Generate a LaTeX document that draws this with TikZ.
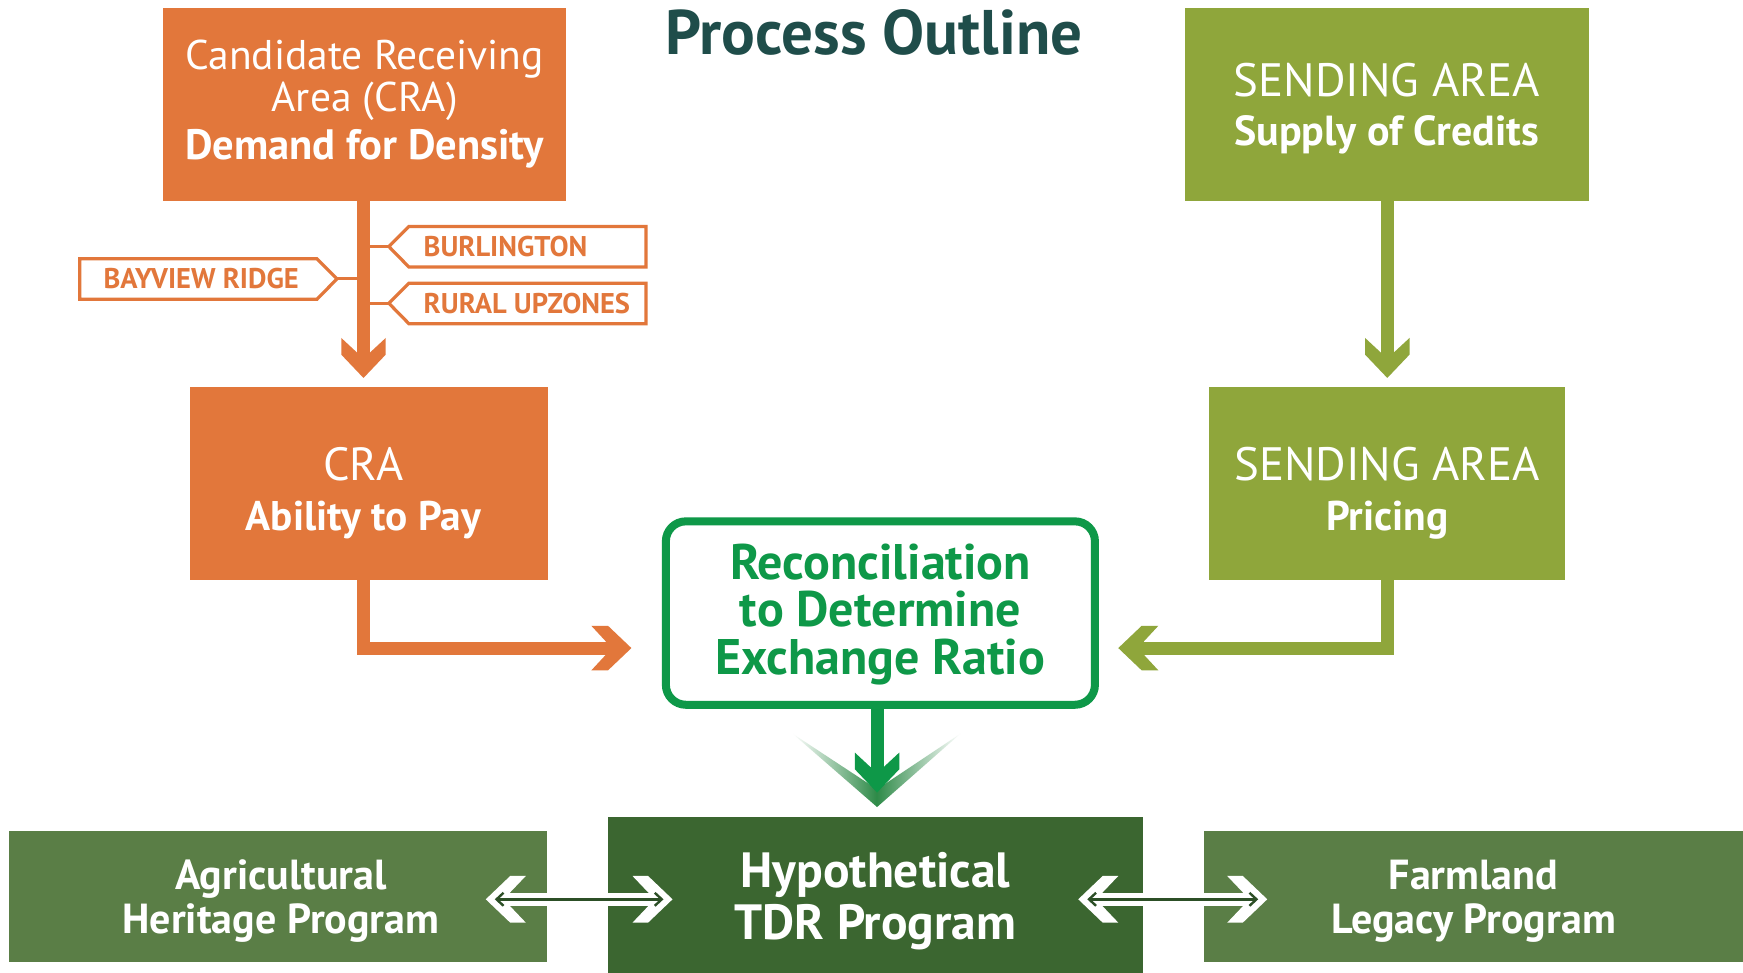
\documentclass[tikz,border=0pt]{standalone}
\usepackage{fontspec}
\setmainfont{PT Sans}
\usetikzlibrary{fit,arrows.meta}
\definecolor{craorange}{HTML}{E2773B}
\definecolor{sendolive}{HTML}{8FA63B}
\definecolor{recgreen}{HTML}{0E9848}
\definecolor{vgreen}{HTML}{2E8A48}
\definecolor{tdrgreen}{HTML}{3B6630}
\definecolor{progreen}{HTML}{5A7E46}
\definecolor{titleteal}{HTML}{1F4D4A}
\definecolor{rimgreen}{HTML}{2C4F26}
\newcommand\setfs[1]{\fontsize{#1}{#1}\selectfont}
\tikzset{
  panel/.style={inner sep=0pt},
  boxtext/.style={inner sep=0pt, text=white, align=center},
  tagbody/.style={inner sep=0pt},
  tagtext/.style={inner sep=0pt, text=craorange, font=\setfs{28.5}\bfseries},
  tagline/.style={draw=craorange, line width=3.2pt, line join=miter},
  tick/.style={craorange, line width=3.2pt},
  shaft/.style={line width=13pt, line join=miter, shorten >=22pt},
  duoshaft/.style={white, line width=13pt, shorten <=18pt, shorten >=18pt},
  duorim/.style={rimgreen, line width=2.4pt,
    {Straight Barb[length=7pt,width=13pt]}-{Straight Barb[length=7pt,width=13pt]},
    shorten <=9pt, shorten >=9pt},
  bighead/.pic={\fill[#1] (0,0) -- (-21,20) -- (-36,20) -- (-23,6) -- (-23,-6) -- (-36,-20) -- (-21,-20) -- cycle;},
  duohead/.pic={\fill[white] (0,0) -- (-22,21) -- (-36,21) -- (-16,0) -- (-36,-21) -- (-22,-21) -- cycle;},
}
\begin{document}
\begin{tikzpicture}[x=1.1116pt, y=-1.1116pt]
\useasboundingbox (0,0) rectangle (1568,875);
\fill[white] (0,0) rectangle (1568,875);

% title
\node[font=\setfs{63}\bfseries, text=titleteal] (title) at (786,29) {Process Outline};

% panels
\node[panel, fill=craorange, fit={(147,7)(509,181)}] (cra) {};
\node[panel, fill=sendolive, fit={(1066,7)(1429,181)}] (send) {};
\node[panel, fill=craorange, fit={(171,348)(493,522)}] (ability) {};
\node[panel, fill=sendolive, fit={(1088,348)(1408,522)}] (pricing) {};
\node[panel, draw=recgreen, line width=8pt, rounded corners=20pt, fit={(599,469)(985,634)}] (recon) {};
\node[panel, fill=tdrgreen, fit={(547,735)(1028,875)}] (tdr) {};
\node[panel, fill=progreen, fit={(8,748)(492,865)}] (agri) {};
\node[panel, fill=progreen, fit={(1083,748)(1568,865)}] (farm) {};

% arrow tips
\coordinate (craTip) at (327,340);
\coordinate (sendTip) at (1248,340);
\coordinate (orTip) at (568,583);
\coordinate (olTip) at (1006,583);
\coordinate (recTip) at (789,713);

% panel texts
\node[boxtext, font=\fontsize{41.5}{42}\selectfont] (craText) at (cra)
  {{\setfs{41.5}Candidate Receiving}\\{\setfs{41.5}Area (CRA)}\\[6pt]{\setfs{42.5}\bfseries Demand for Density}};
\node[boxtext, font=\fontsize{44}{48.5}\selectfont, yshift=-4pt] (sendText) at (send)
  {{\setfs{46.8}SENDING AREA}\\{\setfs{42}\bfseries Supply of Credits}};
\node[boxtext, font=\fontsize{44}{49.5}\selectfont, yshift=-9.5pt] (abilityText) at (ability -| craTip)
  {{\setfs{46.5}CRA}\\{\setfs{41.4}\bfseries Ability to Pay}};
\node[boxtext, font=\fontsize{44}{49.5}\selectfont, yshift=-9.5pt] (pricingText) at (pricing)
  {{\setfs{46.8}SENDING AREA}\\{\setfs{41.5}\bfseries Pricing}};
\node[boxtext, text=recgreen, font=\fontsize{50}{47.5}\selectfont\bfseries, yshift=-1pt] (reconText) at (recon)
  {Reconciliation\\to Determine\\Exchange Ratio};
\node[boxtext, font=\fontsize{49.5}{51.5}\selectfont\bfseries, yshift=-6.5pt] (tdrText) at (tdr)
  {Hypothetical\\TDR Program};
\node[boxtext, font=\fontsize{42}{44.5}\selectfont\bfseries, yshift=-4.5pt, xshift=3pt] (agriText) at (agri)
  {Agricultural\\Heritage Program};
\node[boxtext, font=\fontsize{42}{44.5}\selectfont\bfseries, yshift=-4.5pt] (farmText) at (farm)
  {Farmland\\Legacy Program};

% demand arrow with receiving-area tags
\draw[shaft, craorange] (cra.south -| craTip) -- (craTip);
\pic[rotate=-90] at (craTip) {bighead=craorange};

\node[tagbody, fit={(368,204)(581,240)}] (burl) {};
\node[tagbody, fit={(368,255)(581,291)}] (rural) {};
\node[tagbody, fit={(72,233)(285,269)}] (bay) {};
\node[tagtext, anchor=west] (burlText) at (381,222) {BURLINGTON};
\node[tagtext, anchor=west] (ruralText) at (381,273) {RURAL UPZONES};
\node[tagtext] (bayText) at (181,251) {BAYVIEW RIDGE};
\draw[tagline] (burl.north east) -- (burl.north west) -- ++(-18,18) coordinate (burlTip)
  -- (burl.south west) -- (burl.south east) -- cycle;
\draw[tagline] (rural.north east) -- (rural.north west) -- ++(-18,18) coordinate (ruralTip)
  -- (rural.south west) -- (rural.south east) -- cycle;
\draw[tagline] (bay.north west) -- (bay.north east) -- ++(18,18) coordinate (bayTip)
  -- (bay.south east) -- (bay.south west) -- cycle;
\draw[tick] (burlTip) -- (burlTip -| craTip);
\draw[tick] (ruralTip) -- (ruralTip -| craTip);
\draw[tick] (bayTip) -- (bayTip -| craTip);

% supply arrow
\draw[shaft, sendolive] (send.south -| sendTip) -- (sendTip);
\pic[rotate=-90] at (sendTip) {bighead=sendolive};

% arrows into the reconciliation
\draw[shaft, craorange] (ability.south -| craTip) |- (orTip);
\pic at (orTip) {bighead=craorange};
\draw[shaft, sendolive] (pricing.south -| sendTip) |- (olTip);
\pic[rotate=180] at (olTip) {bighead=sendolive};

% result arrow with soft chevron behind it
\shade[left color=white, right color=white, middle color=vgreen]
  (713,660) -- (789,710) -- (864,660) -- (789,726) -- cycle;
\draw[shaft, recgreen] (recon.south -| recTip) -- (recTip);
\pic[rotate=-90] at (recTip) {bighead=recgreen};

% two-way links between programmes
\coordinate (d1L) at (437,809);
\coordinate (d1R) at (605,809);
\coordinate (d2L) at (970,809);
\coordinate (d2R) at (1140,809);
\draw[duoshaft] (d1L) -- (d1R);
\pic at (d1R) {duohead};
\pic[rotate=180] at (d1L) {duohead};
\draw[duorim] (d1L) -- (d1R);
\draw[duoshaft] (d2L) -- (d2R);
\pic at (d2R) {duohead};
\pic[rotate=180] at (d2L) {duohead};
\draw[duorim] (d2L) -- (d2R);
\end{tikzpicture}
\end{document}
